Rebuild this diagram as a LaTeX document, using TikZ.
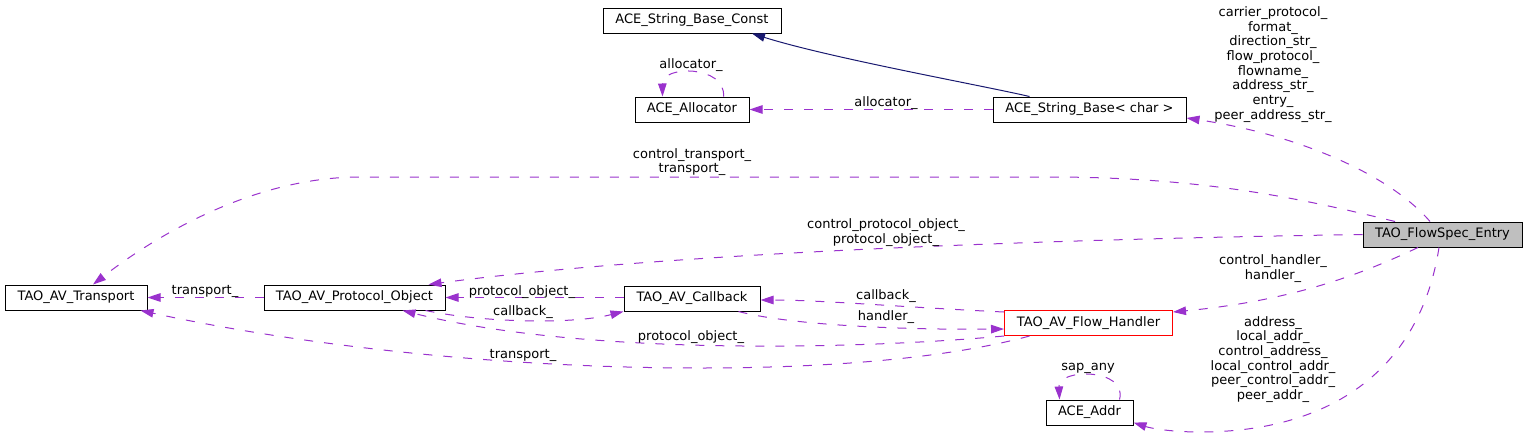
\documentclass[tikz,border=0pt]{standalone}
\usepackage{fontspec}
\setmainfont{DejaVu Sans}
\usetikzlibrary{arrows.meta,calc}
\definecolor{edgec}{HTML}{9A32CD}
\definecolor{inhc}{HTML}{191970}
\definecolor{fsegray}{HTML}{BFBFBF}
\newcommand{\dfont}{\fontsize{13}{14.7}\selectfont}
\begin{document}
\begin{tikzpicture}[x=1pt,y=-1pt,
  cls/.style={draw=black,line width=1pt,minimum height=25pt,inner sep=0pt,font=\dfont},
  uses/.style={draw=edgec,line width=1pt,dash pattern=on 9pt off 11pt,
    -{Triangle[length=13pt,width=8.5pt,fill=edgec,color=edgec,sep=0pt]}},
  inh/.style={draw=inhc,line width=1pt,-{Triangle[length=13pt,width=8.5pt,fill=inhc,color=inhc]}},
  lbl/.style={font=\dfont,align=center,inner sep=0pt}]
\useasboundingbox (0,0) rectangle (1528,437);
% classes
\node[cls,minimum width=178pt] (sbc) at (692,20.5) {ACE\_String\_Base\_Const};
\node[cls,minimum width=114pt] (al) at (692,109.5) {ACE\_Allocator};
\node[cls,minimum width=193pt] (sb) at (1089.5,109.5) {ACE\_String\_Base< char >};
\node[cls,fill=fsegray,minimum width=159pt] (fse) at (1442.5,234.5) {TAO\_FlowSpec\_Entry};
\node[cls,minimum width=142pt] (tr) at (76,297.5) {TAO\_AV\_Transport};
\node[cls,minimum width=181pt] (po) at (354.5,297.5) {TAO\_AV\_Protocol\_Object};
\node[cls,minimum width=136pt] (cb) at (692,298.5) {TAO\_AV\_Callback};
\node[cls,draw=red,minimum width=168pt] (fh) at (1088.5,323) {TAO\_AV\_Flow\_Handler};
\node[cls,minimum width=87pt] (ad) at (1089.5,412.5) {ACE\_Addr};
% edges
\draw[inh] ($(sb.north west)+(37,0)$) .. controls (980,85) and (830,58) .. ($(sbc.south)+(60,0)$);
\draw[uses] ($(al.north east)+(-26,0)$) .. controls (726,65) and (662,65) .. ($(al.north west)+(28,0)$);
\draw[uses] (sb.west) -- (al.east);
\draw[uses] ($(fse.north)+(-12.5,0)$) .. controls (1390,175) and (1300,135) .. ($(sb.east)+(0,8.5)$);
\draw[uses] ($(fse.north)+(-47.5,0)$) .. controls (1300,198) and (1200,177) .. (1050,177) -- (360,177) .. controls (250,177) and (150,240) .. ($(tr.north)+(17,0)$);
\draw[uses] (fse.west) .. controls (1000,240) and (650,255) .. ($(po.north east)+(-17,0)$);
\draw[uses] ($(fse.south)+(-24.5,0)$) .. controls (1370,270) and (1300,300) .. ($(fh.north east)+(0,2)$);
\draw[uses] ($(fse.south)+(-3.5,0)$) .. controls (1420,370) and (1330,432) .. (1200,432) .. controls (1170,432) and (1150,428) .. ($(ad.south east)+(0,-3)$);
\draw[uses] (po.west) -- (tr.east);
\draw[uses] ($(cb.west)+(0,-1)$) -- (po.east);
\draw[uses] ($(po.south east)+(-20,0)$) .. controls (480,322) and (570,325) .. (cb.south west);
\draw[uses] ($(fh.north west)+(0,2)$) .. controls (900,307) and (820,300) .. ($(cb.east)+(0,1.5)$);
\draw[uses] ($(cb.south east)+(-22,0)$) .. controls (790,325) and (900,330) .. ($(fh.west)+(0,6)$);
\draw[uses] (fh.south west) .. controls (850,350) and (580,355) .. ($(po.south)+(48,0)$);
\draw[uses] ($(fh.south west)+(25.5,0)$) .. controls (960,355) and (850,368) .. (700,368) .. controls (500,368) and (300,345) .. ($(tr.south east)+(-7,0)$);
\draw[uses] ($(ad.north east)+(-14,0)$) .. controls (1128,368) and (1058,368) .. ($(ad.north west)+(14,0)$);
% labels
\node[lbl] (l1) at (691,65) {allocator\_};
\node[lbl] (l2) at (886,103) {allocator\_};
\node[lbl] (l3) at (1273,64.5) {carrier\_protocol\_\\format\_\\direction\_str\_\\flow\_protocol\_\\flowname\_\\address\_str\_\\entry\_\\peer\_address\_str\_};
\node[lbl] (l4) at (692,162) {control\_transport\_\\transport\_};
\node[lbl] (l5) at (886,232.5) {control\_protocol\_object\_\\protocol\_object\_};
\node[lbl] (l6) at (1273,268.5) {control\_handler\_\\handler\_};
\node[lbl] (l7) at (1273,359.5) {address\_\\local\_addr\_\\control\_address\_\\local\_control\_addr\_\\peer\_control\_addr\_\\peer\_addr\_};
\node[lbl] (l8) at (205,291) {transport\_};
\node[lbl] (l9) at (522,292) {protocol\_object\_};
\node[lbl] (l10) at (523,312) {callback\_};
\node[lbl] (l11) at (886,296) {callback\_};
\node[lbl] (l12) at (886,317) {handler\_};
\node[lbl] (l13) at (691,337) {protocol\_object\_};
\node[lbl] (l14) at (523,355) {transport\_};
\node[lbl] (l15) at (1088,368) {sap\_any};
\end{tikzpicture}
\end{document}
